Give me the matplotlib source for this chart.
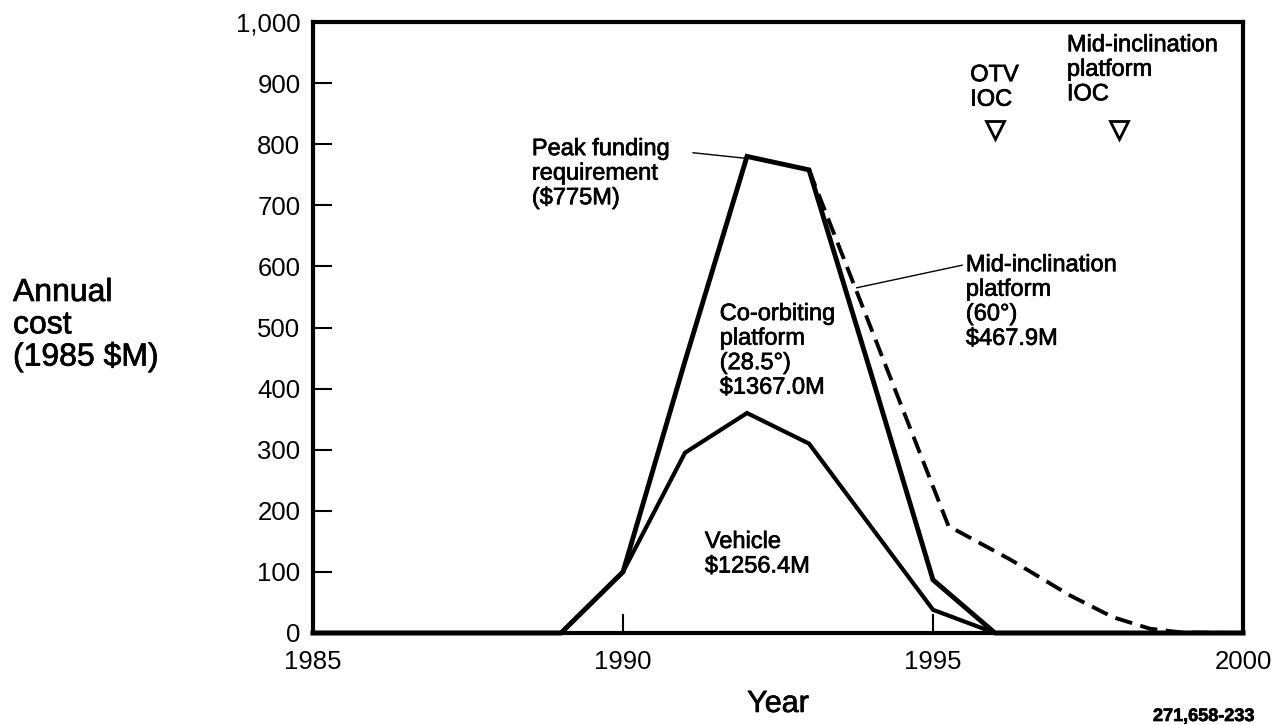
import matplotlib
matplotlib.use("Agg")
import matplotlib.pyplot as plt
import matplotlib.patheffects as pe
from matplotlib.text import Text
from matplotlib.ticker import FuncFormatter

plt.rcParams['font.family'] = ['Liberation Sans', 'DejaVu Sans']

# total (co-orbiting platform incl. vehicle) and vehicle, 1985 $M
years = [1985, 1989, 1990, 1991, 1992, 1993, 1994, 1995, 1996, 2000]
total = [0, 0, 100, 445, 780, 758, 425, 87, 0, 0]
vehicle = [0, 0, 100, 295, 360, 310, 174, 38, 0, 0]

# total with the mid-inclination platform added (dashed)
mid_years = [1993, 1995.25, 1996.25, 1997.2, 1997.9, 1998.5, 1999, 2000]
mid_total = [758, 175, 120, 62, 26, 7, 1, 0]

ioc_years = [1996, 1998]
ioc_level = [823, 823]

fig = plt.figure(figsize=(12.85, 7.25), dpi=100)
ax = fig.add_axes([313/1285, 1 - 633/725, 930/1285, 611/725])

ax.plot(years, total, color='black', lw=3.5, solid_joinstyle='miter', clip_on=False, zorder=3)
ax.plot(years, vehicle, color='black', lw=3, solid_joinstyle='miter', clip_on=False, zorder=3)
ax.plot(mid_years, mid_total, color='black', lw=2.8, ls=(0, (4.5, 2.2)), clip_on=False, zorder=3)

ax.plot(ioc_years, ioc_level, ls='none', marker='v', markersize=13,
        markerfacecolor='white', markeredgecolor='black', markeredgewidth=2)

# leader lines
ax.plot([1991.13, 1991.97], [786, 777], color='black', lw=1)
ax.plot([1993.77, 1995.47], [565, 602], color='black', lw=1)

fs = 17
ax.text(1988.53, 810, "Peak funding\nrequirement\n($775M)", fontsize=fs, va='top', ha='left', linespacing=1.15)
ax.text(1991.56, 540, "Co-orbiting\nplatform\n(28.5°)\n$1367.0M", fontsize=fs, va='top', ha='left', linespacing=1.15)
ax.text(1991.32, 167, "Vehicle\n$1256.4M", fontsize=fs, va='top', ha='left', linespacing=1.15)
ax.text(1995.53, 620, "Mid-inclination\nplatform\n(60°)\n$467.9M", fontsize=fs, va='top', ha='left', linespacing=1.15)
ax.text(1995.6, 931, "OTV\nIOC", fontsize=fs, va='top', ha='left', linespacing=1.15)
ax.text(1997.16, 980, "Mid-inclination\nplatform\nIOC", fontsize=fs, va='top', ha='left', linespacing=1.15)

ax.set_xlim(1985, 2000)
ax.set_ylim(0, 1000)
ax.set_xticks([1985, 1990, 1995, 2000])
ax.set_yticks(range(0, 1001, 100))
ax.yaxis.set_major_formatter(FuncFormatter(lambda v, p: f"{int(v):,}"))
ax.tick_params(direction='in', length=14, width=1.5, labelsize=18.5)
ax.tick_params(axis='y', pad=9)
ax.tick_params(axis='x', pad=12)

for s in ax.spines.values():
    s.set_linewidth(3)

ax.set_xlabel("Year", fontsize=22, labelpad=11)
fig.text(13/1285, 1 - 278/725, "Annual\ncost\n(1985 $M)", fontsize=23, va='top', ha='left', linespacing=1.1)
fig.text(1153/1285, 0.0, "271,658-233", fontsize=13, fontweight='bold', va='bottom', ha='left')

# scanned print looks a bit heavier than regular weight
for t in fig.findobj(Text):
    if t.get_text():
        t.set_path_effects([pe.withStroke(linewidth=0.5, foreground='black')])

fig.savefig("out.png", dpi=100)
